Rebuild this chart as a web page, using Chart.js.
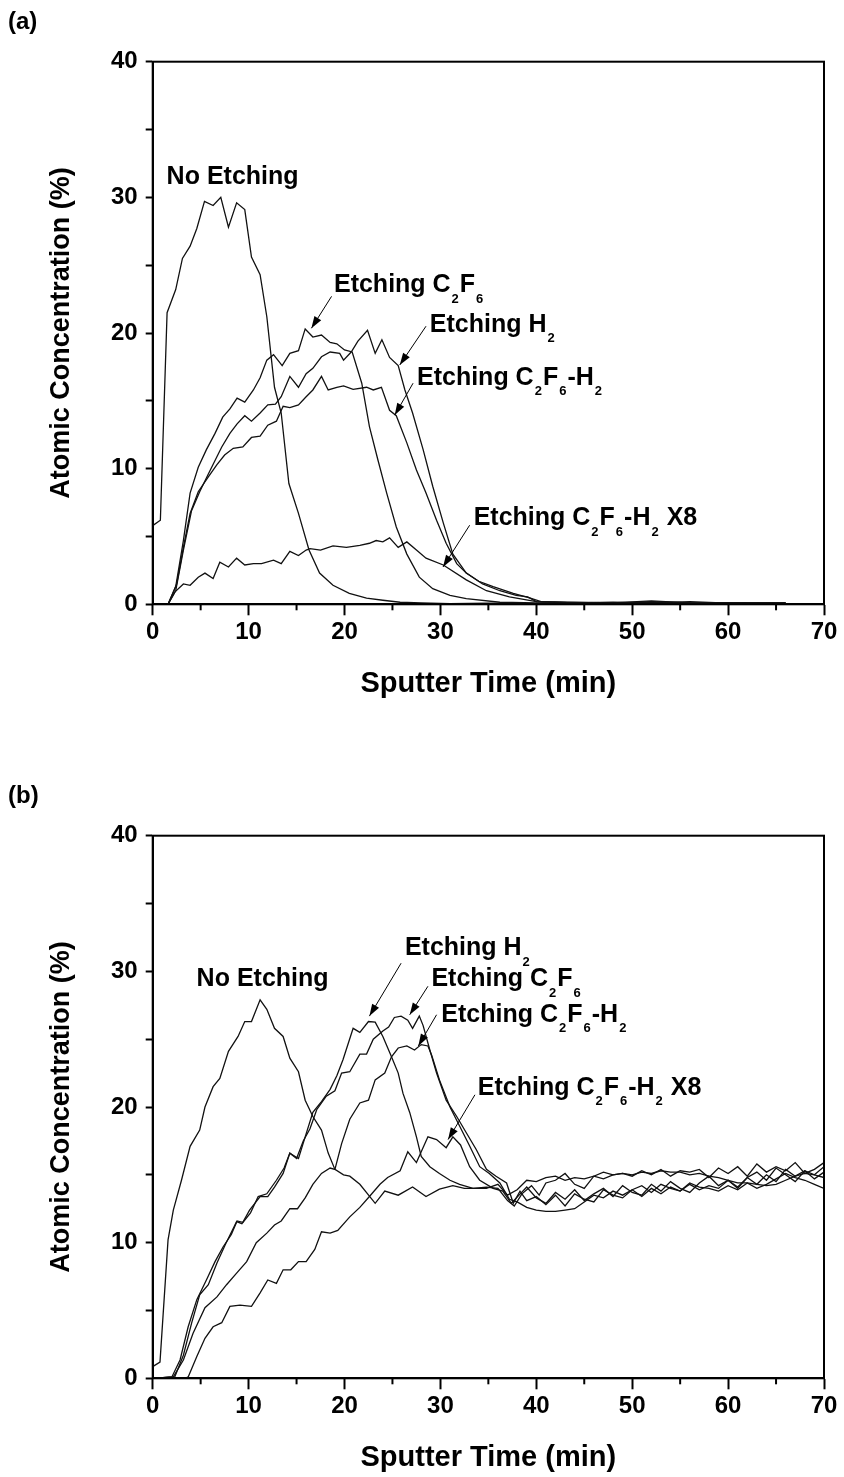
<!DOCTYPE html>
<html>
<head>
<meta charset="utf-8">
<script src="https://cdn.jsdelivr.net/npm/chart.js@4/dist/chart.umd.min.js"></script>
<style>
  body { margin: 0; background: #fff; }
  .panel { position: absolute; left: 0; width: 844px; height: 703px; }
</style>
</head>
<body>
<div class="panel" style="top:0px"><canvas id="chartA"></canvas></div>
<div class="panel" style="top:774px"><canvas id="chartB"></canvas></div>
<script>
// ---- panel (a) : sputter time (min) / atomic concentration (%) ----
const aNoEtchT = [0,0.8,1.5,2.4,3.1,3.9,4.6,5.4,6.3,7.1, 7.9,8.75,9.6,10.3,11.2,11.9,12.7,13.4,14.2,15.2, 16.3,17.4,18.8,20.5,22.3,24,25.8,28,31,35, 40,45,50,52,55,60,66]
const aNoEtchY = [5.8,6.2,21.5,23.2,25.5,26.4,27.7,29.7,29.4,30.0, 27.8,29.6,29.1,25.6,24.3,21.2,16.0,14.1,8.9,6.7, 4.0,2.3,1.4,0.8,0.45,0.3,0.15,0.1,0.05,0.08, 0.05,0.1,0.05,0.1,0.05,0.05,0.05]

const aC2F6T = [1.6,2.4,3.2,3.9,4.75,5.6,6.5,7.3,8.05,8.8, 9.6,10.5,11.2,11.9,12.6,13.5,14.3,15.2,15.9,16.7, 17.6,18.5,19.2,20.0,20.8,21.8,22.6,23.5,24.4,25.4, 26.5,27.8,29.2,31,32.7,36.2,40,44,48,52,56,60,66]
const aC2F6Y = [0,1.3,4.7,8.2,10.1,11.4,12.6,13.8,14.4,15.2, 14.9,15.8,16.7,18.0,18.4,17.6,18.5,18.7,20.3,19.7, 19.85,19.3,19.2,18.75,18.6,16.3,13.1,10.6,8.2,5.7, 3.7,2.0,1.15,0.66,0.42,0.15,0.1,0.12,0.08,0.2,0.1,0.08,0.1]

const aH2T = [1.6,2.4,3.2,4.05,4.9,5.8,6.5,7.2,8.05,8.8, 9.6,10.3,11.2,12.0,12.8,13.4,14.3,15.2,16.0,16.7, 17.6,18.5,19.5,19.9,20.7,21.4,22.4,23.2,23.9,24.7, 25.6,26.3,27.1,28.2,29.2,30.3,31.3,32.7,34.4,36.2, 37.9,39.1,40,44,48,52,56,60,66]
const aH2Y = [0,1.0,4.0,6.9,8.3,9.6,10.6,11.6,12.6,13.3, 13.9,13.5,14.1,14.7,14.75,15.3,16.8,16.0,17.0,17.4, 18.25,18.6,18.5,18.0,18.6,19.4,20.2,18.5,19.5,18.2, 17.6,15.8,14.1,11.4,8.7,6.0,3.7,2.3,1.5,1.0, 0.66,0.55,0.2,0.15,0.1,0.25,0.1,0.12,0.1]

const aMixT = [1.6,2.5,3.2,3.9,4.75,5.8,6.7,7.5,8.4,9.4, 10.3,11.2,12.0,12.9,13.6,14.3,15.2,16.0,16.7,17.6, 18.3,19.2,19.9,20.9,22.3,23.0,23.85,24.7,25.4,26.5, 27.5,28.5,29.6,30.6,31.7,32.7,34,35.5,37.6,39.3, 40.5,44,48,52,56,60,66]
const aMixY = [0,1.5,4.2,6.7,8.3,9.4,10.3,11.0,11.5,11.6, 12.3,12.4,13.2,13.5,14.6,14.5,14.7,15.3,15.8,16.8, 15.8,16.0,16.1,15.85,16.0,15.8,16.0,14.3,13.9,11.9, 9.9,8.2,6.2,4.5,3.0,2.3,1.7,1.3,0.8,0.47, 0.2,0.1,0.15,0.1,0.2,0.08,0.1]

const aX8T = [1.6,2.3,3.2,3.9,4.75,5.45,6.3,7.0,7.9,8.75, 9.6,10.5,11.35,12.6,13.4,14.3,15.2,16.0,16.4,17.5, 18.8,20.2,21.6,22.6,23.3,24.0,24.7,25.6,26.5,27.5, 28.5,30.3,32.7,34.8,37.2,40,44,48,52,56,60,66]
const aX8Y = [0,0.9,1.5,1.4,2.0,2.3,1.9,3.1,2.75,3.4, 2.9,3.0,3.0,3.25,3.0,3.9,3.6,4.0,4.1,4.0, 4.3,4.2,4.35,4.5,4.7,4.6,4.9,4.2,4.6,4.0, 3.4,2.9,1.8,1.0,0.55,0.2,0.1,0.05,0.15,0.08,0.1,0.05]

// ---- panel (b) ----
const bNoEtchT = [0,0.76,1.6,2.15,3.0,3.9,4.9,5.45,6.3,7.0, 7.9,8.9,9.6,10.3,11.2,11.9,12.7,13.6,14.3,15.2, 15.9,16.7,17.6,18.3,19.0,19.9,20.55,21.6,23.2,24.2, 25.6,27.1,28.5,29.9,31.3,32.5,34.8,36,37,38, 39,40,41,42,43,44,45,46,47,48, 49,50,51,52,53,54,55,56,57,58, 59,60,61,62,63,64,65,66,67,68, 69,70]
const bNoEtchY = [0.86,1.2,10.2,12.4,14.6,17.1,18.3,20.0,21.5,22.1, 24.1,25.2,26.3,26.3,27.9,27.2,25.8,25.2,23.6,22.6, 20.5,19.3,18.3,16.6,15.4,15.0,14.9,14.3,12.9,13.8, 13.5,14.1,13.4,13.95,14.2,14.0,14.0,14.3,13.5,13.9, 14.6,14.5,14.8,14.9,14.6,14.8,14.7,14.9,14.7,15.0, 15.1,15.0,15.2,15.1,15.3,15.2,15.2,15.0,15.1,14.9, 14.8,14.6,14.4,14.4,14.3,14.2,14.3,14.6,14.9,15.1, 15.0,14.8]

const bH2T = [0,2.0,2.85,3.7,4.6,5.6,6.5,7.35,8.2,8.8, 9.4,10.1,11.2,12.0,12.7,13.6,14.3,15.2,15.9,16.7, 17.6,18.5,19.2,19.85,20.9,21.6,22.5,23.2,24.0,24.9, 25.6,26.1,26.8,27.5,28.0,28.9,29.9,31.0,32.0,33.4, 34.8,36,37,37.7,38.5,39.5,40.3,41,42,43, 44,45,46,47,48,49,50,51,52,53, 54,55,56,57,58,59,60,61,62,63, 64,65,66,67,68,69,70]
const bH2Y = [0,0.1,1.35,3.8,5.8,7.25,8.6,9.7,10.6,11.6, 11.5,12.4,13.4,13.4,14.1,15.1,16.6,16.2,17.8,19.6, 20.4,21.3,22.3,23.5,25.8,25.5,26.3,26.25,25.2,23.7, 22.5,21.0,19.6,17.8,16.35,15.6,15.1,14.6,14.3,14.0, 14.1,14.0,13.1,12.7,13.6,14.2,13.5,14.4,14.6,15.1, 14.3,14.0,14.9,15.2,15.0,15.1,14.9,15.3,15.0,15.4, 14.9,15.3,15.2,15.4,14.8,15.5,15.1,15.6,14.9,15.8, 15.2,15.6,15.3,15.9,15.1,15.4,15.9]

const bC2F6T = [0,2.3,3.2,4.05,4.9,5.8,6.7,7.6,8.75,9.3, 10.2,11.0,11.9,12.9,13.7,14.3,15.0,15.7,16.4,17.1, 18.1,19.0,19.7,20.55,21.6,22.3,23.0,24.0,24.6,25.2, 25.9,26.6,27.1,27.8,28.2,28.9,29.6,30.6,31.7,32.7, 33.75,34.8,35.8,36.9,37.6,38.3,39,40,41,42, 43,44,45,46,47,48,49,50,51,52, 53,54,55,56,57,58,59,60,61,62, 63,64,65,66,67,68,69,70]
const bC2F6Y = [0,0.1,1.7,4.05,6.15,6.9,8.5,9.9,11.55,11.4, 12.2,13.4,13.6,14.6,15.5,16.6,16.2,17.5,18.4,19.8, 20.8,21.2,22.5,22.6,23.9,23.9,25.0,25.6,25.9,26.6, 26.7,26.4,25.8,26.7,26.0,24.2,22.5,20.5,19.3,18.1, 16.85,15.4,14.9,14.4,12.9,13.8,13.1,13.4,12.8,13.5, 12.7,13.6,13.2,13.0,13.9,13.5,13.3,13.9,13.4,14.0, 13.6,14.1,13.8,14.3,13.9,14.2,14.0,14.6,14.1,14.8, 14.3,15.0,14.5,15.4,14.9,15.3,14.7,15.2]

const bMixT = [0,2.15,3.2,4.2,5.45,6.7,7.7,8.75,9.8,10.8, 11.9,12.7,13.4,14.3,15.1,15.9,16.7,17.6,18.5,19.0, 19.7,20.55,21.6,22.5,23.2,24.2,24.9,25.6,26.5,27.3, 28.0,28.7,29.1,29.9,31.0,32.0,33.0,34.1,35.1,36.2, 37.2,38,39,40,41,42,43,44,45,46, 47,48,49,50,51,52,53,54,55,56, 57,58,59,60,61,62,63,64,65,66, 67,68,69,70]
const bMixY = [0,0.1,1.35,3.3,5.2,6.0,6.9,7.75,8.6,10.0, 10.7,11.3,11.6,12.5,12.5,13.3,14.3,15.1,15.5,15.4, 17.3,19.1,20.3,20.5,22.0,22.5,23.7,24.35,24.5,24.2, 24.6,24.5,23.8,22.0,20.0,18.6,17.2,15.6,15.1,14.4, 13.2,13.0,12.6,12.4,12.3,12.3,12.4,12.5,13.0,13.5, 13.3,13.8,13.5,13.9,14.2,13.7,14.3,14.0,13.8,14.4, 14.1,14.0,13.8,14.2,13.9,14.4,14.0,14.3,14.7,15.1, 14.8,14.6,14.3,14.0]

const bX8T = [0,3.4,3.7,4.6,5.45,6.3,7.2,8.05,9.1,10.3, 11.2,12.0,12.9,13.6,14.4,15.2,16.0,16.9,17.6,18.5, 19.3,20.55,21.6,22.6,23.7,24.5,25.8,26.6,27.5,28.7, 29.6,30.6,31.3,32.1,33.05,34.1,35.5,36.5,37.4,38.2, 39,40,41,42,43,44,45,46,47,48, 49,50,51,52,53,54,55,56,57,58, 59,60,61,62,63,64,65,66,67,68, 69,70]
const bX8Y = [0,0,0.1,1.6,2.95,3.8,4.1,5.3,5.4,5.3, 6.3,7.25,7.0,8.0,8.0,8.6,8.6,9.5,10.8,10.7, 10.9,11.9,12.6,13.4,14.3,14.8,15.3,16.7,15.9,17.8, 17.6,17.0,17.8,17.2,15.6,14.6,14.0,13.8,12.9,13.5, 14.1,13.3,12.9,13.7,13.2,13.9,13.1,13.6,14.0,13.4, 14.2,13.7,13.5,14.3,13.8,14.5,14.0,13.7,14.4,14.9, 14.2,14.6,14.0,14.8,15.2,14.6,15.5,15.0,14.5,15.3, 15.0,15.6]

// axis ranges / ticks
const xMin = 0, xMax = 70, xMajor = 10, xMinor = 5
const yMin = 0, yMax = 40, yStep = 5

const FONT = '"Liberation Sans", Arial, Helvetica, sans-serif'

// labels: a part that starts with "_" is drawn as subscript
const annotA = [
    {parts: ['No Etching'], x: 1.45, y: 31.0},
    {parts: ['Etching C', '_2', 'F', '_6'], x: 18.9, y: 23.0, from: [18.65, 22.7], to: [16.55, 20.35]},
    {parts: ['Etching H', '_2'], x: 28.9, y: 20.1, from: [28.5, 20.5], to: [25.76, 17.64]},
    {parts: ['Etching C', '_2', 'F', '_6', '-H', '_2'], x: 27.56, y: 16.2, from: [27.15, 16.3], to: [25.24, 13.95]},
    {parts: ['Etching C', '_2', 'F', '_6', '-H', '_2', ' X8'], x: 33.47, y: 5.83, from: [33.05, 5.83], to: [30.27, 2.75]}
]
const annotB = [
    {parts: ['No Etching'], x: 4.58, y: 28.95},
    {parts: ['Etching H', '_2'], x: 26.3, y: 31.2, from: [25.9, 30.6], to: [22.6, 26.7]},
    {parts: ['Etching C', '_2', 'F', '_6'], x: 29.06, y: 28.9, from: [28.7, 28.9], to: [26.8, 26.8]},
    {parts: ['Etching C', '_2', 'F', '_6', '-H', '_2'], x: 30.1, y: 26.3, from: [29.6, 26.8], to: [27.7, 24.5]},
    {parts: ['Etching C', '_2', 'F', '_6', '-H', '_2', ' X8'], x: 33.9, y: 20.9, from: [33.6, 20.9], to: [30.8, 17.6]}
]

function zip(xs, ys){
    let pts = []
    for (let i = 0; i < xs.length; i++){
        pts.push({x: xs[i], y: ys[i]})
    }
    return pts
}

function drawRich(ctx, x, y, parts, size){
    let cx = x
    ctx.textAlign = 'left'
    ctx.textBaseline = 'alphabetic'
    for (const p of parts){
        const sub = p[0] === '_'
        const t = sub ? p.slice(1) : p
        const fs = sub ? Math.round(size * 0.52) : size
        ctx.font = `bold ${fs}px ${FONT}`
        ctx.fillText(t, cx + (sub ? 1 : 0), sub ? y + size * 0.42 : y)
        cx += ctx.measureText(t).width + (sub ? 2 : 0)
    }
}

function drawArrow(ctx, x1, y1, x2, y2){
    ctx.beginPath()
    ctx.moveTo(x1, y1)
    ctx.lineTo(x2, y2)
    ctx.lineWidth = 1
    ctx.stroke()
    const ang = Math.atan2(y2 - y1, x2 - x1)
    const len = 12, half = 4
    ctx.beginPath()
    ctx.moveTo(x2, y2)
    ctx.lineTo(x2 - len * Math.cos(ang) + half * Math.sin(ang), y2 - len * Math.sin(ang) - half * Math.cos(ang))
    ctx.lineTo(x2 - len * Math.cos(ang) - half * Math.sin(ang), y2 - len * Math.sin(ang) + half * Math.cos(ang))
    ctx.closePath()
    ctx.fill()
}

// frame, minor x ticks, titles and the annotations
const decorPlugin = {
    id: 'decor',
    afterDraw(chart){
        const ctx = chart.ctx
        const a = chart.chartArea
        const xs = chart.scales.x, ys = chart.scales.y
        const o = chart.options.plugins.decor
        ctx.save()
        ctx.strokeStyle = '#000'
        ctx.fillStyle = '#000'
        ctx.lineWidth = 2
        ctx.strokeRect(a.left, a.top, a.right - a.left, a.bottom - a.top)

        for (let v = xMin + xMinor; v < xMax; v += xMajor){
            const px = xs.getPixelForValue(v)
            ctx.beginPath()
            ctx.moveTo(px, a.bottom)
            ctx.lineTo(px, a.bottom + 6)
            ctx.stroke()
        }

        // panel letter
        ctx.font = `bold 24px ${FONT}`
        ctx.textAlign = 'left'
        ctx.textBaseline = 'alphabetic'
        ctx.fillText(o.letter, 8, 29)

        // axis titles
        ctx.font = `bold 29px ${FONT}`
        ctx.textAlign = 'center'
        ctx.textBaseline = 'middle'
        ctx.fillText('Sputter Time (min)', (a.left + a.right) / 2, 684)
        ctx.font = `bold 27px ${FONT}`
        ctx.save()
        ctx.translate(62, (a.top + a.bottom) / 2)
        ctx.rotate(-Math.PI / 2)
        ctx.fillText('Atomic Concentration (%)', 0, 0)
        ctx.restore()

        for (const n of o.notes){
            drawRich(ctx, xs.getPixelForValue(n.x), ys.getPixelForValue(n.y), n.parts, 25)
            if (n.from){
                drawArrow(ctx, xs.getPixelForValue(n.from[0]), ys.getPixelForValue(n.from[1]),
                    xs.getPixelForValue(n.to[0]), ys.getPixelForValue(n.to[1]))
            }
        }
        ctx.restore()
    }
}

function makePanel(id, series, letter, notes){
    const datasets = series.map(s => ({
        data: zip(s[0], s[1]),
        borderColor: '#111',
        borderWidth: 1.3,
        pointRadius: 0,
        fill: false,
        tension: 0
    }))
    new Chart(document.getElementById(id).getContext('2d'), {
        type: 'line',
        data: {datasets},
        plugins: [decorPlugin],
        options: {
            responsive: true,
            maintainAspectRatio: false,
            animation: false,
            devicePixelRatio: 1,
            layout: {padding: {top: 61.7, right: 20, left: 0, bottom: 0}},
            plugins: {
                legend: {display: false},
                tooltip: {enabled: false},
                decor: {letter, notes}
            },
            scales: {
                x: {
                    type: 'linear', min: xMin, max: xMax,
                    ticks: {stepSize: xMajor, color: '#000', padding: 3, maxRotation: 0,
                        font: {family: FONT, size: 24, weight: 'bold'}},
                    grid: {drawOnChartArea: false, drawTicks: true, tickLength: 11, tickWidth: 2, tickColor: '#000'},
                    border: {display: true, width: 2, color: '#000'},
                    afterFit: s => { s.height = 98.7; s.paddingLeft = 0; s.paddingRight = 0 }
                },
                y: {
                    min: yMin, max: yMax,
                    ticks: {stepSize: yStep, color: '#000', padding: 8,
                        font: {family: FONT, size: 24, weight: 'bold'},
                        callback: v => (v % 10 === 0 ? v : '')},
                    grid: {drawOnChartArea: false, drawTicks: true, tickLength: 7, tickWidth: 2, tickColor: '#000'},
                    border: {display: true, width: 2, color: '#000'},
                    afterFit: s => { s.width = 152.7; s.paddingTop = 0; s.paddingBottom = 0 }
                }
            }
        }
    })
}

makePanel('chartA', [[aNoEtchT, aNoEtchY], [aC2F6T, aC2F6Y], [aH2T, aH2Y], [aMixT, aMixY], [aX8T, aX8Y]], '(a)', annotA)
makePanel('chartB', [[bNoEtchT, bNoEtchY], [bH2T, bH2Y], [bC2F6T, bC2F6Y], [bMixT, bMixY], [bX8T, bX8Y]], '(b)', annotB)
</script>
</body>
</html>
